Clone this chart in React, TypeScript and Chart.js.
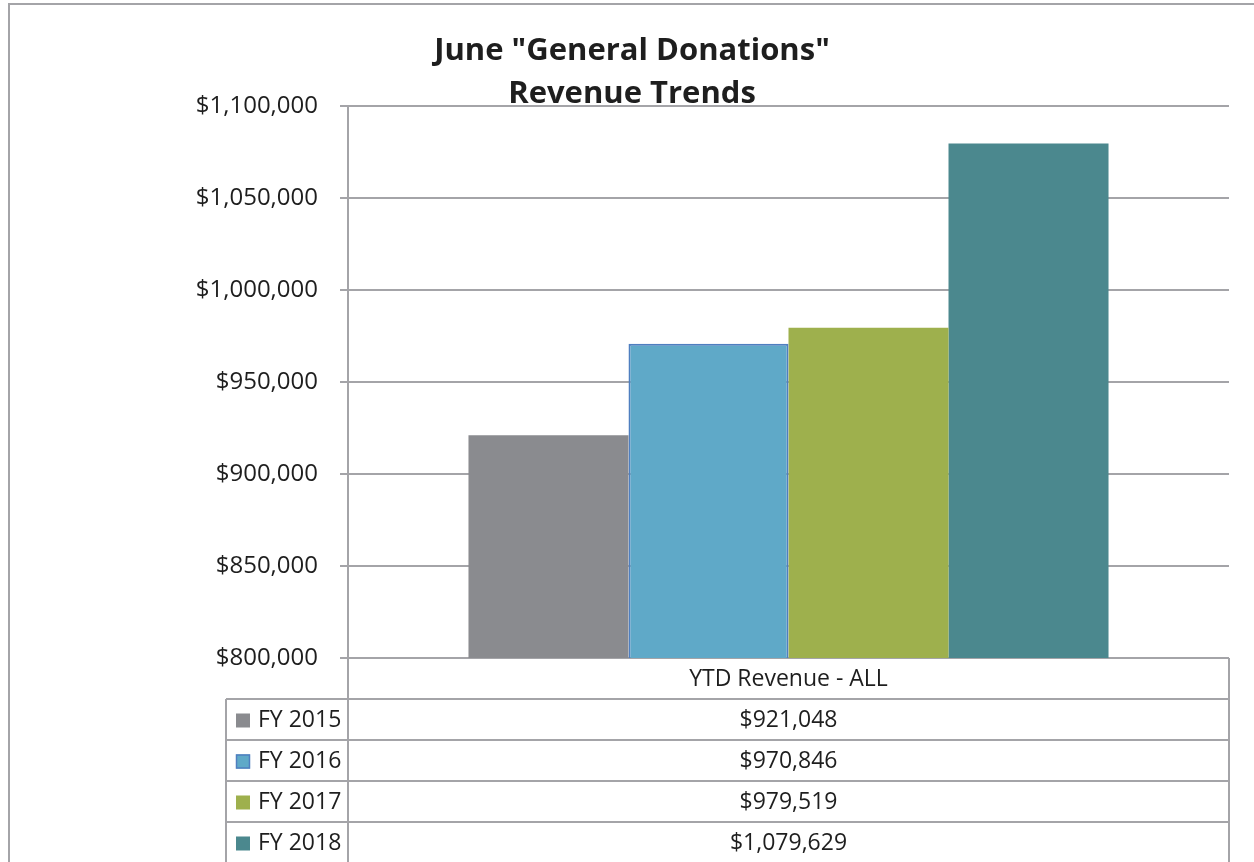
import React, { useEffect, useRef } from "react";
import { Chart, registerables } from "chart.js";

Chart.register(...registerables);

const categories = ["YTD Revenue - ALL"];
const seriesNames = ["FY 2015", "FY 2016", "FY 2017", "FY 2018"];
const seriesValues = [921048, 970846, 979519, 1079629];
const seriesColors = ["#8a8b8f", "#5fa9c8", "#9eb04d", "#4b888e"];
const seriesBorders = ["#8a8b8f", "#4f7fc0", "#9eb04d", "#4b888e"];
const seriesBorderWidths = [0, 2, 0, 0];
const titleLines = ['June "General Donations"', "Revenue Trends"];
const yMin = 800000;
const yMax = 1100000;
const yStep = 50000;

const W = 1254;
const H = 862;
const FONT = "'Open Sans', 'Liberation Sans', sans-serif";
const GRID = "#a4a4a8";
const TEXT = "#1e1e1e";

const fmt = (v: number) => "$" + Math.round(v).toLocaleString("en-US");

const decorPlugin = {
  id: "decor",
  afterDraw(chart: any) {
    const ctx = chart.ctx as CanvasRenderingContext2D;
    const area = chart.chartArea;
    const rowH = 41;
    const legendLeft = 226;
    const top = area.bottom;
    ctx.save();
    // outer frame
    ctx.strokeStyle = GRID;
    ctx.lineWidth = 2;
    ctx.beginPath();
    ctx.moveTo(9, H);
    ctx.lineTo(9, 4);
    ctx.lineTo(W, 4);
    ctx.stroke();

    // table lines
    ctx.beginPath();
    ctx.moveTo(area.left, top);
    ctx.lineTo(area.left, H);
    ctx.moveTo(area.right, top);
    ctx.lineTo(area.right, H);
    ctx.moveTo(legendLeft, top + rowH);
    ctx.lineTo(legendLeft, H);
    for (let i = 1; i <= seriesNames.length; i++) {
      const y = top + rowH * i;
      ctx.moveTo(legendLeft, y);
      ctx.lineTo(area.right, y);
    }
    ctx.stroke();

    // header text
    ctx.fillStyle = TEXT;
    ctx.font = `23px ${FONT}`;
    ctx.textAlign = "center";
    ctx.textBaseline = "middle";
    const cx = (area.left + area.right) / 2;
    ctx.fillText(categories[0], cx, top + rowH / 2 + 1);
    seriesNames.forEach((name, i) => {
      const cy = top + rowH * (i + 1) + rowH / 2 + 1;
      ctx.textAlign = "center";
      ctx.fillStyle = TEXT;
      ctx.fillText(fmt(seriesValues[i]), cx, cy);
      ctx.fillStyle = seriesColors[i];
      ctx.fillRect(236, cy - 7, 14, 14);
      if (seriesBorderWidths[i] > 0) {
        ctx.strokeStyle = seriesBorders[i];
        ctx.lineWidth = 1.5;
        ctx.strokeRect(236.5, cy - 6.5, 13, 13);
      }
      ctx.fillStyle = TEXT;
      ctx.textAlign = "left";
      ctx.fillText(name, 258, cy);
    });

    // title
    ctx.fillStyle = TEXT;
    ctx.textAlign = "center";
    ctx.textBaseline = "middle";
    ctx.font = `bold 31px ${FONT}`;
    ctx.fillText(titleLines[0], 632, 51);
    ctx.fillText(titleLines[1], 632, 94);
    ctx.restore();
  },
};

export default function App() {
  const ref = useRef<HTMLCanvasElement | null>(null);
  useEffect(() => {
    if (!ref.current) return;
    const chart = new Chart(ref.current, {
      type: "bar",
      data: {
        labels: categories,
        datasets: seriesNames.map((name, i) => ({
          label: name,
          data: [seriesValues[i]],
          backgroundColor: seriesColors[i],
          borderColor: seriesBorders[i],
          borderWidth: seriesBorderWidths[i],
          borderSkipped: false,
          categoryPercentage: 0.7265,
          barPercentage: 1,
        })),
      },
      options: {
        responsive: false,
        animation: false,
        layout: { padding: { top: 106, bottom: 204, left: 0, right: 25 } },
        plugins: {
          legend: { display: false },
          title: { display: false },
          tooltip: { enabled: false },
        },
        scales: {
          x: { display: false },
          y: {
            min: yMin,
            max: yMax,
            afterFit: (scale: any) => {
              scale.width = 348;
            },
            ticks: {
              stepSize: yStep,
              padding: 22,
              color: TEXT,
              font: { family: FONT, size: 24 },
              callback: (v: any) => fmt(Number(v)),
            },
            grid: {
              color: GRID,
              lineWidth: 2,
              tickLength: 8,
              drawTicks: true,
            },
            border: { display: true, color: GRID, width: 2 },
          },
        },
      },
      plugins: [decorPlugin],
    });
    return () => chart.destroy();
  }, []);
  return (
    <div style={{ position: "absolute", left: 0, top: 0, width: W, height: H, background: "#fff" }}>
      <canvas ref={ref} width={W} height={H} style={{ display: "block" }} />
    </div>
  );
}
